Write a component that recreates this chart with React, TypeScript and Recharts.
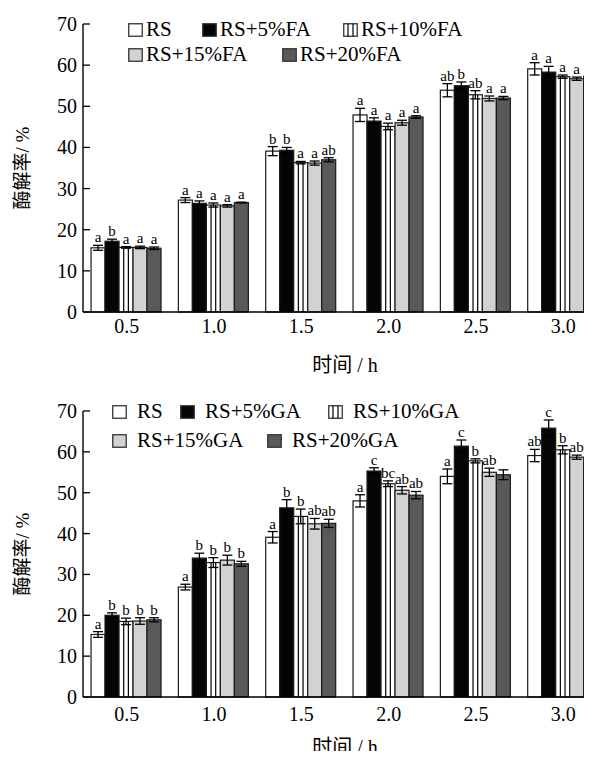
import React from 'react';
import { BarChart, Bar, XAxis, YAxis, ErrorBar } from 'recharts';

const categories = ['0.5', '1.0', '1.5', '2.0', '2.5', '3.0'];
const yTicks = [0, 10, 20, 30, 40, 50, 60, 70];

const faNames = ['RS', 'RS+5%FA', 'RS+10%FA', 'RS+15%FA', 'RS+20%FA'];
const gaNames = ['RS', 'RS+5%GA', 'RS+10%GA', 'RS+15%GA', 'RS+20%GA'];

// FA panel
const faRS = [15.6, 27.2, 39.1, 47.9, 53.9, 59.1];
const faRSErr = [0.6, 0.6, 1.1, 1.6, 1.6, 1.5];
const faRSSig = ['a', 'a', 'b', 'a', 'ab', 'a'];
const fa5 = [17.2, 26.4, 39.3, 46.4, 55.0, 58.3];
const fa5Err = [0.5, 0.6, 0.7, 0.8, 0.9, 1.4];
const fa5Sig = ['b', 'a', 'b', 'a', 'b', 'a'];
const fa10 = [15.7, 26.0, 36.3, 45.1, 52.8, 57.2];
const fa10Err = [0.2, 0.5, 0.3, 0.8, 1.0, 0.4];
const fa10Sig = ['a', 'a', 'a', 'a', 'ab', 'a'];
const fa15 = [15.7, 25.8, 36.2, 46.0, 51.9, 56.7];
const fa15Err = [0.3, 0.3, 0.5, 0.6, 0.6, 0.4];
const fa15Sig = ['a', 'a', 'a', 'a', 'a', 'a'];
const fa20 = [15.5, 26.6, 37.0, 47.4, 52.0, 57.3];
const fa20Err = [0.3, 0.1, 0.5, 0.3, 0.4, 0.4];
const fa20Sig = ['a', 'a', 'ab', 'a', 'a', 'a'];

// GA panel
const gaRS = [15.3, 26.9, 39.1, 48.0, 54.0, 59.1];
const gaRSErr = [0.7, 0.7, 1.4, 1.5, 1.8, 1.5];
const gaRSSig = ['a', 'a', 'a', 'a', 'a', 'ab'];
const ga5 = [20.0, 34.0, 46.3, 55.3, 61.4, 65.8];
const ga5Err = [0.6, 1.2, 2.0, 0.8, 1.5, 2.0];
const ga5Sig = ['b', 'b', 'b', 'c', 'c', 'c'];
const ga10 = [18.5, 32.9, 44.2, 52.2, 57.8, 60.5];
const ga10Err = [0.8, 1.2, 1.8, 0.7, 0.5, 1.0];
const ga10Sig = ['b', 'b', 'b', 'bc', 'b', 'b'];
const ga15 = [18.6, 33.5, 42.4, 50.6, 55.0, 58.7];
const ga15Err = [0.8, 1.2, 1.3, 0.9, 1.0, 0.5];
const ga15Sig = ['b', 'b', 'ab', 'ab', 'ab', 'ab'];
const ga20 = [18.9, 32.6, 42.5, 49.4, 54.4, 57.3];
const ga20Err = [0.5, 0.6, 1.0, 0.9, 1.2, 0.2];
const ga20Sig = ['b', 'b', 'ab', 'ab', '', 'a'];

const FILLS = ['#ffffff', '#050505', '#ffffff', '#d1d2d4', '#58595b'];
const STRIPED = [false, false, true, false, false];
const STROKE = '#1a1a1a';
const FONT = "'Liberation Serif', 'Noto Sans CJK SC', serif";

function buildRows(vals: number[][], errs: number[][], sigs: string[][]) {
  return categories.map((c, i) => {
    const row: any = { cat: c };
    vals.forEach((v, s) => {
      row['v' + s] = v[i];
      row['e' + s] = errs[s][i];
      row['l' + s] = sigs[s][i];
    });
    return row;
  });
}

const faData = buildRows(
  [faRS, fa5, fa10, fa15, fa20],
  [faRSErr, fa5Err, fa10Err, fa15Err, fa20Err],
  [faRSSig, fa5Sig, fa10Sig, fa15Sig, fa20Sig]
);
const gaData = buildRows(
  [gaRS, ga5, ga10, ga15, ga20],
  [gaRSErr, ga5Err, ga10Err, ga15Err, ga20Err],
  [gaRSSig, ga5Sig, ga10Sig, ga15Sig, ga20Sig]
);

function YTick(props: any) {
  const { x, y, payload } = props;
  return (
    <g>
      <text x={x} y={y} textAnchor="end" dominantBaseline="central" fontSize={20} fill="#000" fontFamily={FONT}>
        {payload.value}
      </text>
      <line x1={x + 6} x2={x + 13} y1={y} y2={y} stroke="#000" strokeWidth={1.3} />
    </g>
  );
}

const makeShape = (s: number) => (props: any) => {
  const { x, y, width, height, payload } = props;
  const v = payload['v' + s];
  const errPx = v > 0 ? (payload['e' + s] * height) / v : 0;
  return (
    <g>
      <rect x={x} y={y} width={width} height={height} fill={FILLS[s]} stroke={STROKE} strokeWidth={1.2} />
      {STRIPED[s] &&
        [1, 2].map((k) => (
          <line
            key={k}
            x1={x + (width * k) / 3}
            x2={x + (width * k) / 3}
            y1={y}
            y2={y + height}
            stroke="#000"
            strokeWidth={1.2}
          />
        ))}
      <text x={x + width / 2} y={y - errPx - 3} textAnchor="middle" fontSize={15} fill="#000" fontFamily={FONT}>
        {payload['l' + s]}
      </text>
    </g>
  );
};

function LegendBox({ s }: { s: number }) {
  return (
    <svg width={15} height={14} style={{ display: 'block', flex: 'none' }}>
      <rect x={0.75} y={0.75} width={13.5} height={12.5} fill={FILLS[s]} stroke="#333" strokeWidth={1.3} />
      {STRIPED[s] &&
        [5, 10].map((k) => <line key={k} x1={k} x2={k} y1={0.75} y2={13.25} stroke="#000" strokeWidth={1.2} />)}
    </svg>
  );
}

function LegendBlock({
  names,
  rows,
  left,
  top,
  rowH,
  gap,
}: {
  names: string[];
  rows: { s: number; w?: number }[][];
  left: number;
  top: number;
  rowH: number[];
  gap: number;
}) {
  return (
    <div style={{ position: 'absolute', left, top, fontFamily: FONT, fontSize: 21, color: '#000' }}>
      {rows.map((r, ri) => (
        <div key={ri} style={{ display: 'flex', alignItems: 'center', height: rowH[ri] }}>
          {r.map((it) => (
            <div
              key={it.s}
              style={{ display: 'flex', alignItems: 'center', width: it.w, flex: 'none', whiteSpace: 'nowrap' }}
            >
              <LegendBox s={it.s} />
              <span style={{ marginLeft: gap }}>{names[it.s]}</span>
            </div>
          ))}
        </div>
      ))}
    </div>
  );
}

function Panel({
  data,
  height,
  top,
  xHeight,
  tickMargin,
  titleOffset,
  legend,
}: {
  data: any[];
  height: number;
  top: number;
  xHeight: number;
  tickMargin: number;
  titleOffset: number;
  legend: React.ReactNode;
}) {
  return (
    <div style={{ position: 'relative', width: 605, height }}>
      <BarChart
        width={605}
        height={height}
        data={data}
        margin={{ top, right: 6, bottom: 0, left: 0 }}
        barCategoryGap="9.2%"
        barGap={0}
        style={{ fontFamily: FONT }}
      >
        <XAxis
          dataKey="cat"
          height={xHeight}
          axisLine={{ stroke: '#000', strokeWidth: 1.4 }}
          tickLine={false}
          tickSize={0}
          tickMargin={tickMargin}
          tick={{ fill: '#000', fontSize: 20, fontFamily: FONT }}
          label={{
            value: '时间 / h',
            position: 'insideBottom',
            offset: titleOffset,
            fill: '#000',
            fontSize: 20,
            fontFamily: FONT,
          }}
        />
        <YAxis
          type="number"
          domain={[0, 70]}
          ticks={yTicks}
          interval={0}
          width={75}
          axisLine={{ stroke: '#000', strokeWidth: 1.4 }}
          tickLine={false}
          tickSize={0}
          tickMargin={6}
          tick={<YTick />}
          label={{
            value: '酶解率/ %',
            angle: -90,
            position: 'insideLeft',
            offset: 14,
            fill: '#000',
            fontSize: 19,
            fontFamily: FONT,
            style: { textAnchor: 'middle' },
          }}
        />
        {[0, 1, 2, 3, 4].map((s) => (
          <Bar key={s} dataKey={'v' + s} isAnimationActive={false} shape={makeShape(s)}>
            <ErrorBar dataKey={'e' + s} width={5} stroke="#000" strokeWidth={1.3} direction="y" />
          </Bar>
        ))}
      </BarChart>
      {legend}
    </div>
  );
}

export default function App() {
  return (
    <div style={{ width: 584, height: 751, marginBottom: -8, overflow: 'hidden', fontFamily: FONT }}>
      <Panel
        data={faData}
        height={380}
        top={16}
        xHeight={76}
        tickMargin={7}
        titleOffset={16}
        legend={
          <LegendBlock
            names={faNames}
            left={120}
            top={9}
            rowH={[25, 25]}
            gap={3}
            rows={[
              [{ s: 0, w: 74 }, { s: 1, w: 141 }, { s: 2 }],
              [{ s: 3, w: 154 }, { s: 4 }],
            ]}
          />
        }
      />
      <Panel
        data={gaData}
        height={371}
        top={23}
        xHeight={62}
        tickMargin={10}
        titleOffset={5}
        legend={
          <LegendBlock
            names={gaNames}
            left={104}
            top={9}
            rowH={[29, 29]}
            gap={10}
            rows={[
              [{ s: 0, w: 68 }, { s: 1, w: 148 }, { s: 2 }],
              [{ s: 3, w: 155 }, { s: 4 }],
            ]}
          />
        }
      />
    </div>
  );
}
